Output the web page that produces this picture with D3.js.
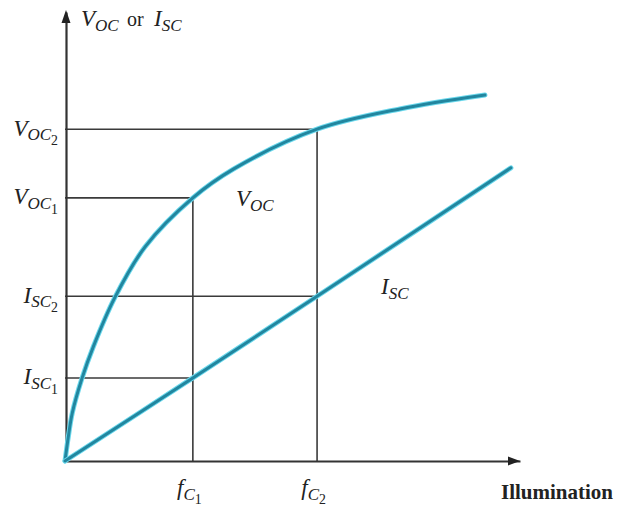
<!DOCTYPE html>
<html>
<head>
<meta charset="utf-8">
<script src="https://cdn.jsdelivr.net/npm/d3@7"></script>
<style>
  html, body { margin: 0; padding: 0; background: #fff; }
  text { font-family: "Liberation Serif", "DejaVu Serif", serif; fill: #222; }
</style>
</head>
<body>
<div id="chart"></div>
<script>
// illumination (0..100) vs output (0..100)
var vocCurve = [
    [0, 0], [0.7, 5.2], [1.6, 10.7], [3.7, 18.3], [6.2, 25.4], [11.0, 36.5],
    [17.6, 47.7], [28.1, 58.6], [37.0, 65.0], [55.4, 73.9], [73.6, 78.4], [92.3, 81.5]
];
var iscLine = [[0, 0], [28.1, 18.5], [55.4, 36.7], [98, 65.3]];

// the two marked illumination levels
var xTicks = [28.1, 55.4];
var xTickLabels = [["f", "C", "1"], ["f", "C", "2"]];

// levels marked on the vertical axis
var yTicks = [73.9, 58.6, 36.7, 18.5];
var yTickLabels = [["V", "OC", "2"], ["V", "OC", "1"], ["I", "SC", "2"], ["I", "SC", "1"]];
// x where each level meets its curve
var yTickEnds = [55.4, 28.1, 55.4, 28.1];
var vguideTop = [58.6, 73.9];

var width = 619, height = 508;

var svg = d3.select("#chart")
    .append("svg")
    .attr("width", width)
    .attr("height", height);

var x = d3.scaleLinear().domain([0, 100]).range([65, 520]);
var y = d3.scaleLinear().domain([0, 100]).range([461, 12]);

// write "V" + "OC" + "2" style labels with subscripts
function subLabel(sel, parts, big) {
    sel.append("tspan").attr("font-style", "italic").attr("font-size", big).text(parts[0]);
    sel.append("tspan").attr("font-style", "italic").attr("font-size", big * 0.74)
        .attr("dy", big * 0.2).text(parts[1]);
    if (parts[2]) {
        sel.append("tspan").attr("font-size", big * 0.6)
            .attr("dy", big * 0.2).text(parts[2]);
    }
}

// guide lines
svg.selectAll(".hguide")
    .data(yTicks)
    .enter().append("line")
    .attr("class", "hguide")
    .attr("x1", x(0)).attr("x2", function (d, i) { return x(yTickEnds[i]); })
    .attr("y1", function (d) { return y(d); }).attr("y2", function (d) { return y(d); })
    .attr("stroke", "#3a3a3a").attr("stroke-width", 1.6);

svg.selectAll(".vguide")
    .data(xTicks)
    .enter().append("line")
    .attr("class", "vguide")
    .attr("x1", function (d) { return x(d); }).attr("x2", function (d) { return x(d); })
    .attr("y1", y(0)).attr("y2", function (d, i) { return y(vguideTop[i]); })
    .attr("stroke", "#3a3a3a").attr("stroke-width", 1.6);

// axes
var xAxis = svg.append("g")
    .attr("transform", "translate(0," + y(0) + ")")
    .call(d3.axisBottom(x).tickValues(xTicks).tickSize(0).tickSizeOuter(0).tickFormat(""));
var yAxis = svg.append("g")
    .attr("transform", "translate(" + (x(0) + 1) + ",0)")
    .call(d3.axisLeft(y).tickValues(yTicks).tickSize(0).tickSizeOuter(0).tickFormat(""));

[xAxis, yAxis].forEach(function (g) {
    g.select(".domain").attr("stroke", "#333").attr("stroke-width", 2.2);
});

xAxis.selectAll(".tick text")
    .attr("y", 0).attr("dy", 0)
    .attr("transform", "translate(-4,34)")
    .attr("text-anchor", "middle")
    .each(function (d, i) { subLabel(d3.select(this), xTickLabels[i], 23); });

yAxis.selectAll(".tick text")
    .attr("x", -8).attr("dy", 0)
    .attr("transform", "translate(0,6)")
    .attr("text-anchor", "end")
    .each(function (d, i) { subLabel(d3.select(this), yTickLabels[i], 23); });

// arrowheads
svg.append("path")
    .attr("d", "M" + x(100) + "," + y(0) + "l-12,-4.5l0,9z")
    .attr("fill", "#222");
svg.append("path")
    .attr("d", "M" + (x(0) + 1) + "," + (y(100) - 2) + "l-4.5,13l9,0z")
    .attr("fill", "#222");

// curves
var line = d3.line()
    .x(function (d) { return x(d[0]); })
    .y(function (d) { return y(d[1]); })
    .curve(d3.curveCatmullRom.alpha(0.5));

[vocCurve, iscLine].forEach(function (data) {
    svg.append("path")
        .datum(data)
        .attr("fill", "none")
        .attr("stroke", "#6ad8ec")
        .attr("stroke-width", 5)
        .attr("stroke-linecap", "round")
        .attr("d", line);
    svg.append("path")
        .datum(data)
        .attr("fill", "none")
        .attr("stroke", "#22869f")
        .attr("stroke-width", 3)
        .attr("stroke-linecap", "round")
        .attr("d", line);
});

// labels
svg.append("text")
    .attr("x", 81).attr("y", 26)
    .each(function () { subLabel(d3.select(this), ["V", "OC"], 23); });
svg.append("text")
    .attr("x", 127).attr("y", 26)
    .attr("font-size", 20)
    .text("or");
svg.append("text")
    .attr("x", 154).attr("y", 26)
    .each(function () { subLabel(d3.select(this), ["I", "SC"], 23); });

svg.append("text")
    .attr("x", 236).attr("y", 206)
    .each(function () { subLabel(d3.select(this), ["V", "OC"], 23); });
svg.append("text")
    .attr("x", 381).attr("y", 294)
    .each(function () { subLabel(d3.select(this), ["I", "SC"], 23); });

svg.append("text")
    .attr("x", 501).attr("y", 499)
    .attr("font-size", 21)
    .attr("font-weight", "bold")
    .text("Illumination");
</script>
</body>
</html>
